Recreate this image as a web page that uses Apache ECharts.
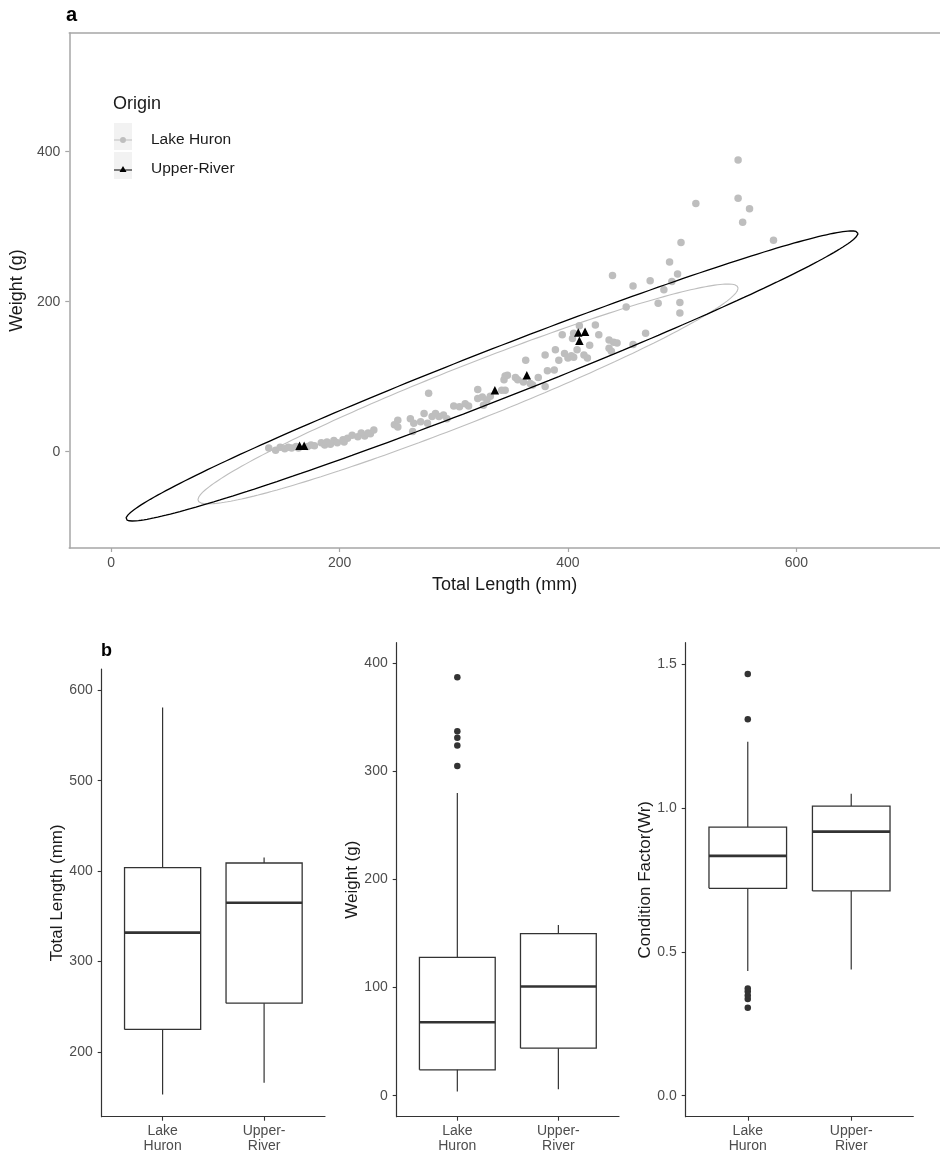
<!DOCTYPE html>
<html><head><meta charset="utf-8">
<script src="https://cdn.jsdelivr.net/npm/echarts@6/dist/echarts.min.js"></script>
<style>html,body{margin:0;padding:0;background:#fff}#c{width:940px;height:1170px}</style>
</head><body><div id="c"></div>
<script>
const FONT = '"Liberation Sans", Arial, Helvetica, sans-serif';

// ---------- panel a : scatter data (Total Length mm, Weight g) ----------
const lakeHuronLength = [138,144,148,152,155,158,162,164,172,175,178,184,187,189,192,195,198,203,204,207,
  211,216,219,222,225,227,230,248,251,251,262,264,265,271,274,277,278,281,284,287,291,294,300,305,310,313,
  321,321,325,326,329,332,342,344,345,345,347,354,356,361,363,367,369,374,380,380,382,388,389,392,395,397,
  400,403,404,405,405,408,410,414,417,419,424,427,436,436,438,440,443,439,451,457,457,468,472,479,484,489,
  491,496,498,498,499,512,549,549,553,559,580];
const lakeHuronWeight = [5,2,6,4,6,5,7,5,7,9,8,12,9,13,10,15,12,16,13,18,
  22,20,25,21,25,24,29,36,42,33,44,27,38,40,51,38,78,47,51,47,49,44,61,60,64,61,
  83,71,73,62,69,74,82,96,101,82,102,99,96,93,122,91,89,99,87,129,108,109,136,122,156,131,
  125,128,151,126,158,136,168,129,125,142,169,156,149,138,134,146,145,235,193,143,221,158,228,198,216,253,
  227,237,199,185,279,331,338,389,306,324,282];
const upperRiverLength = [165,169,336,364,409,410,415];
const upperRiverWeight = [8,8,82,102,159,148,160];

// data ellipses: centre x, centre y, semi-diameter to right tip (dx, dy), vertical half-height at centre
const lakeHuronEllipse = [312.5, 77, 236.5, 141, 40];
const upperRiverEllipse = [333.5, 101, 320.5, 190, 36];

const scatterXTicks = [0, 200, 400, 600];
const scatterYTicks = [0, 200, 400];

// ---------- panel b : box plot summaries [min, Q1, median, Q3, max] ----------
const boxCategories = ['Lake\nHuron', 'Upper-\nRiver'];
const lengthStats = [[153, 225, 332, 404, 581], [166, 254, 365, 409, 415]];
const weightStats = [[4, 24, 68, 128, 280], [6, 44, 101, 150, 158]];
const conditionStats = [[0.434, 0.721, 0.834, 0.934, 1.231], [0.439, 0.712, 0.918, 1.007, 1.050]];
const weightOutliersLakeHuron = [305, 324, 331, 337, 387];
const conditionOutliersLakeHuron = [0.306, 0.336, 0.348, 0.362, 0.373, 1.309, 1.466];
const lengthTicks = [200, 300, 400, 500, 600];
const weightTicks = [0, 100, 200, 300, 400];
const conditionTicks = [0, 0.5, 1.0, 1.5];
const BOX_WIDTH = 0.75; // in category units

function ellipsePoints(p) {
  const pts = [];
  const n = 240;
  for (let i = 0; i <= n; i++) {
    const t = 2 * Math.PI * i / n;
    pts.push([p[0] + p[2] * Math.cos(t), p[1] + p[3] * Math.cos(t) + p[4] * Math.sin(t)]);
  }
  return pts;
}
function pairs(xs, ys) { return xs.map((x, i) => [x, ys[i]]); }

const boxGrids = [
  { left: 101.7, top: 669, width: 223.3, height: 447.7 },
  { left: 396.7, top: 642.7, width: 222.3, height: 474 },
  { left: 685.7, top: 642.7, width: 227.6, height: 474 }
];
const boxY = [
  { name: 'Total Length (mm)', min: 128.5, max: 623.5, ticks: lengthTicks, gap: 34, fmt: v => String(v) },
  { name: 'Weight (g)', min: -19.4, max: 419, ticks: weightTicks, gap: 35, fmt: v => String(v) },
  { name: 'Condition Factor(Wr)', min: -0.073, max: 1.575, ticks: conditionTicks, gap: 31, fmt: v => v.toFixed(1) }
];

const grids = [{ left: 68, top: 33, width: 872, height: 515 }].concat(boxGrids);

const xAxes = [
  { type: 'value', gridIndex: 0, min: -36.7, max: 725.8, position: 'bottom',
    name: 'Total Length (mm)', nameLocation: 'middle', nameGap: 28,
    nameTextStyle: { fontSize: 18, color: '#1a1a1a', fontFamily: FONT },
    axisLine: { show: true, onZero: false, lineStyle: { color: '#a6a6a6', width: 1.5 } },
    axisTick: { show: true, customValues: scatterXTicks, length: 4, lineStyle: { color: '#a6a6a6', width: 1.2 } },
    axisLabel: { customValues: scatterXTicks, fontSize: 14, color: '#4d4d4d', margin: 8, fontFamily: FONT },
    splitLine: { show: false } },
  { type: 'value', gridIndex: 0, min: -36.7, max: 725.8, position: 'top',
    axisLine: { show: true, onZero: false, lineStyle: { color: '#a6a6a6', width: 1.5 } },
    axisTick: { show: false }, axisLabel: { show: false }, splitLine: { show: false } }
];
const yAxes = [
  { type: 'value', gridIndex: 0, min: -128.4, max: 558.3,
    name: 'Weight (g)', nameLocation: 'middle', nameGap: 40,
    nameTextStyle: { fontSize: 18, color: '#1a1a1a', fontFamily: FONT },
    axisLine: { show: true, onZero: false, lineStyle: { color: '#a6a6a6', width: 1.5 } },
    axisTick: { show: true, customValues: scatterYTicks, length: 4, lineStyle: { color: '#a6a6a6', width: 1.2 } },
    axisLabel: { customValues: scatterYTicks, fontSize: 14, color: '#4d4d4d', margin: 9, fontFamily: FONT },
    splitLine: { show: false } }
];
const boxXIndex = [], boxYIndex = [];
boxY.forEach((b, k) => {
  boxXIndex.push(xAxes.length);
  xAxes.push({ type: 'value', gridIndex: k + 1, min: 0.4, max: 2.6,
    axisLine: { show: true, onZero: false, lineStyle: { color: '#333333', width: 1.2 } },
    axisTick: { show: true, customValues: [1, 2], length: 4, lineStyle: { color: '#333333', width: 1.1 } },
    axisLabel: { customValues: [1, 2], formatter: v => boxCategories[Math.round(v) - 1],
      fontSize: 14, lineHeight: 15, color: '#4d4d4d', margin: 7, fontFamily: FONT },
    splitLine: { show: false } });
  boxYIndex.push(yAxes.length);
  yAxes.push({ type: 'value', gridIndex: k + 1, min: b.min, max: b.max,
    name: b.name, nameLocation: 'middle', nameGap: b.gap,
    nameTextStyle: { fontSize: 17, color: '#1a1a1a', fontFamily: FONT },
    axisLine: { show: true, onZero: false, lineStyle: { color: '#333333', width: 1.2 } },
    axisTick: { show: true, customValues: b.ticks, length: 4, lineStyle: { color: '#333333', width: 1.1 } },
    axisLabel: { customValues: b.ticks, formatter: b.fmt, fontSize: 14, color: '#4d4d4d', margin: 9, fontFamily: FONT },
    splitLine: { show: false } });
});

const series = [
  { type: 'scatter', name: 'Lake Huron', xAxisIndex: 0, yAxisIndex: 0, data: pairs(lakeHuronLength, lakeHuronWeight),
    symbol: 'circle', symbolSize: 7.5, itemStyle: { color: '#bebebe', opacity: 1 }, emphasis: { disabled: true }, z: 2 },
  { type: 'scatter', name: 'Upper-River', xAxisIndex: 0, yAxisIndex: 0, data: pairs(upperRiverLength, upperRiverWeight),
    symbol: 'triangle', symbolSize: 8.5, itemStyle: { color: '#000000', opacity: 1 }, emphasis: { disabled: true }, z: 3 },
  { type: 'line', name: 'Lake Huron ellipse', xAxisIndex: 0, yAxisIndex: 0, data: ellipsePoints(lakeHuronEllipse),
    showSymbol: false, silent: true, lineStyle: { color: '#bebebe', width: 1.1 }, z: 4 },
  { type: 'line', name: 'Upper-River ellipse', xAxisIndex: 0, yAxisIndex: 0, data: ellipsePoints(upperRiverEllipse),
    showSymbol: false, silent: true, lineStyle: { color: '#000000', width: 1.3 }, z: 4 }
];

function boxLine(k, name, data, width) {
  return { type: 'line', name: name, xAxisIndex: boxXIndex[k], yAxisIndex: boxYIndex[k], data: data,
    showSymbol: false, silent: true, animation: false,
    lineStyle: { color: '#333333', width: width, join: 'miter', cap: 'butt' }, z: 3 };
}
const allStats = [lengthStats, weightStats, conditionStats];
allStats.forEach((stats, k) => {
  stats.forEach((s, i) => {
    const x = i + 1, h = BOX_WIDTH / 2;
    const [mn, q1, md, q3, mx] = s;
    series.push(boxLine(k, 'whiskerLow' + k + i, [[x, mn], [x, q1]], 1.2));
    series.push(boxLine(k, 'whiskerHigh' + k + i, [[x, q3], [x, mx]], 1.2));
    series.push(boxLine(k, 'box' + k + i, [[x - h, q1], [x + h, q1], [x + h, q3], [x - h, q3], [x - h, q1]], 1.3));
    series.push(boxLine(k, 'median' + k + i, [[x - h, md], [x + h, md]], 2.6));
  });
});
series.push({ type: 'scatter', name: 'weight outliers', xAxisIndex: boxXIndex[1], yAxisIndex: boxYIndex[1],
  data: weightOutliersLakeHuron.map(v => [1, v]), symbolSize: 6.5, itemStyle: { color: '#333333', opacity: 1 }, silent: true, z: 5 });
series.push({ type: 'scatter', name: 'condition outliers', xAxisIndex: boxXIndex[2], yAxisIndex: boxYIndex[2],
  data: conditionOutliersLakeHuron.map(v => [1, v]), symbolSize: 6.5, itemStyle: { color: '#333333', opacity: 1 }, silent: true, z: 5 });

const chart = echarts.init(document.getElementById('c'), null, { renderer: 'canvas' });
chart.setOption({
  animation: false,
  backgroundColor: '#ffffff',
  textStyle: { fontFamily: FONT },
  title: [
    { text: 'a', left: 66, top: 5, padding: 0, textStyle: { fontSize: 20, fontWeight: 'bold', color: '#000', fontFamily: FONT } },
    { text: 'b', left: 101, top: 642, padding: 0, textStyle: { fontSize: 18, fontWeight: 'bold', color: '#000', fontFamily: FONT } },
    { text: 'Origin', left: 113, top: 95, padding: 0, textStyle: { fontSize: 18, fontWeight: 'normal', color: '#1a1a1a', fontFamily: FONT } }
  ],
  legend: {
    orient: 'vertical', left: 114, top: 132, padding: 0, itemWidth: 18, itemHeight: 27, itemGap: 13,
    selectedMode: false,
    textStyle: { fontSize: 15.5, color: '#1a1a1a', fontFamily: FONT, padding: [0, 0, 0, 14] },
    data: [
      { name: 'Lake Huron', icon: 'path://M0,2.55 H18 V3.45 H0 Z M9,0 A3,3 0 1 1 8.99,0 Z' },
      { name: 'Upper-River', icon: 'path://M0,3.6 H18 V4.4 H0 Z M9,0 L12.5,6 L5.5,6 Z' }
    ]
  },
  graphic: [
    { type: 'rect', left: 114, top: 123, shape: { width: 18, height: 27 }, style: { fill: '#f2f2f2' }, z: -1, silent: true },
    { type: 'rect', left: 114, top: 152, shape: { width: 18, height: 27 }, style: { fill: '#f2f2f2' }, z: -1, silent: true }
  ],
  grid: grids,
  xAxis: xAxes,
  yAxis: yAxes,
  series: series
});
</script></body></html>
